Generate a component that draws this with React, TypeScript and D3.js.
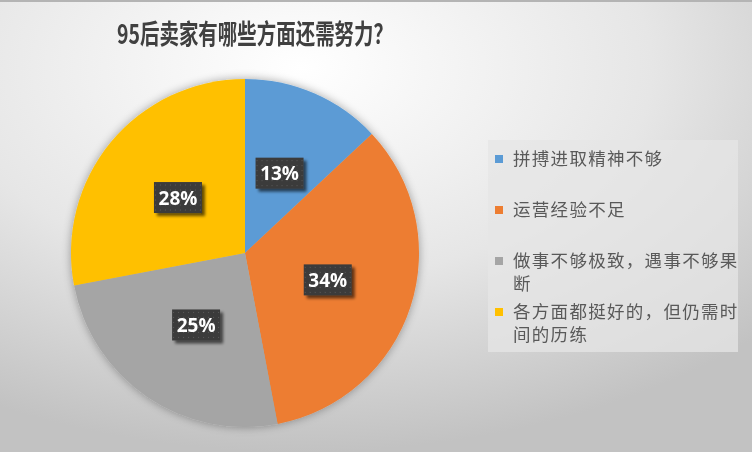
import React from 'react';
import * as d3 from 'd3';

const categories = ['拼搏进取精神不够', '运营经验不足', '做事不够极致，遇事不够果断', '各方面都挺好的，但仍需时间的历练'];
const values = [13, 34, 25, 28];
const labels = ['13%', '34%', '25%', '28%'];
const legendLines = [['拼搏进取精神不够'], ['运营经验不足'], ['做事不够极致，遇事不够果', '断'], ['各方面都挺好的，但仍需时', '间的历练']];
const colors = ['#5B9BD5', '#ED7D31', '#A5A5A5', '#FFC000'];

const W = 752;
const H = 452;
const cx = 245;
const cy = 253;
const R = 174;

const App: React.FC = () => {
  const pie = d3.pie<number>().sort(null).value(d => d);
  const arcs = pie(values);
  const arc = d3.arc<d3.PieArcDatum<number>>().innerRadius(0).outerRadius(R);
  const arcLabel = d3.arc<d3.PieArcDatum<number>>().innerRadius(R * 0.5).outerRadius(R * 0.5);
  const color = d3.scaleOrdinal<string, string>().domain(categories).range(colors);

  // legend row positions (first line of each item)
  const legendY = d3.scalePoint<number>().domain([0, 1, 2, 3]).range([159, 312]);

  return (
    <div style={{position: 'fixed', left: 0, top: 0}}>
      <svg width={W} height={H} style={{display: 'block'}}>
        <defs>
          <radialGradient id="bg" cx="0.4" cy="0.15" r="0.85">
            <stop offset="0" stopColor="#ffffff"/>
            <stop offset="0.55" stopColor="#e6e6e6"/>
            <stop offset="1" stopColor="#c2c2c2"/>
          </radialGradient>
          <filter id="pieShadow" x="-20%" y="-20%" width="140%" height="140%">
            <feGaussianBlur in="SourceAlpha" stdDeviation="5"/>
            <feOffset dx="0" dy="0" result="b"/>
            <feComponentTransfer><feFuncA type="linear" slope="0.35"/></feComponentTransfer>
            <feMerge><feMergeNode/><feMergeNode in="SourceGraphic"/></feMerge>
          </filter>
          <filter id="boxShadow" x="-30%" y="-30%" width="160%" height="160%">
            <feGaussianBlur in="SourceAlpha" stdDeviation="1.5"/>
            <feOffset dx="3" dy="3"/>
            <feComponentTransfer><feFuncA type="linear" slope="0.6"/></feComponentTransfer>
            <feMerge><feMergeNode/><feMergeNode in="SourceGraphic"/></feMerge>
          </filter>
          <pattern id="dots" width="5" height="5" patternUnits="userSpaceOnUse">
            <rect width="5" height="5" fill="#3b3b3b"/>
            <rect x="2" y="2" width="1" height="1" fill="#5a5a5a"/>
          </pattern>
        </defs>
        <rect width={W} height={H} fill="url(#bg)"/>
        <rect width={W} height={2} fill="#b4b4b4"/>

        <text x={255} y={44} textAnchor="middle" fontFamily="'Noto Sans CJK SC', sans-serif"
              fontWeight="bold" fontSize={27} fill="#404040" textLength={276} lengthAdjust="spacingAndGlyphs">
          95后卖家有哪些方面还需努力？
        </text>

        <g transform={`translate(${cx},${cy})`}>
          <g filter="url(#pieShadow)">
            {arcs.map((d, i) => (
              <path key={i} d={arc(d) ?? ''} fill={color(categories[i])}/>
            ))}
          </g>
          {arcs.map((d, i) => {
            const [x, y] = arcLabel.centroid(d);
            return (
              <g key={i} transform={`translate(${x},${y})`}>
                <rect x={-24} y={-15.5} width={48} height={31} fill="url(#dots)" filter="url(#boxShadow)"/>
                <text y={7} textAnchor="middle" fill="#ffffff" fontWeight="bold" fontSize={19}
                      fontFamily="'Open Sans', 'Noto Sans', sans-serif">{labels[i]}</text>
              </g>
            );
          })}
        </g>

        <rect x={488} y={140} width={250} height={212} fill="#e6e6e6" opacity={0.75}/>
        {categories.map((c, i) => (
          <g key={c}>
            <rect x={495} y={legendY(i)! - 4} width={8} height={8} fill={color(c)}/>
            {legendLines[i].map((line, j) => (
              <text key={j} x={513} y={legendY(i)! + 6 + j * 23} fontSize={17.5} letterSpacing={1.3}
                    fill="#595959" fontFamily="'Noto Sans CJK SC', sans-serif">{line}</text>
            ))}
          </g>
        ))}
      </svg>
    </div>
  );
};

export default App;
